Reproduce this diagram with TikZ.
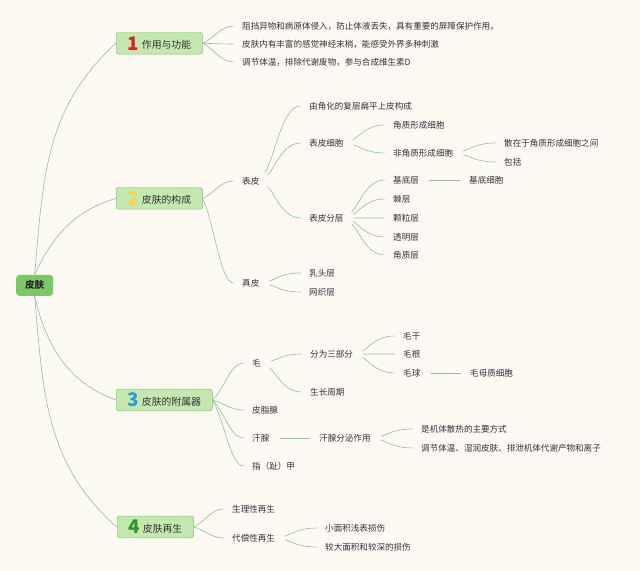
\documentclass[tikz,border=0pt]{standalone}
\usepackage{fontspec}
\setmainfont{Noto Sans CJK SC}
\usepackage{tikz}
\usetikzlibrary{calc}
\definecolor{SkBack}{RGB}{253,250,243}
\definecolor{SkLine}{RGB}{145,188,168}
\definecolor{SkText}{RGB}{50,50,50}
\definecolor{SkFill}{RGB}{196,232,176}
\definecolor{SkEdge}{RGB}{130,196,110}
\definecolor{SkRoot}{RGB}{122,200,102}
\definecolor{SkRed}{RGB}{222,32,32}
\definecolor{SkYellow}{RGB}{244,214,70}
\definecolor{SkBlue}{RGB}{38,156,216}
\definecolor{SkGreen}{RGB}{44,150,44}
\newcommand{\topicno}[2]{\raisebox{-1.5pt}{\fontsize{16}{16}\selectfont\bfseries\color{#1}#2}\hspace{2.5pt}}

\begin{document}
\begin{tikzpicture}[
          hub/.style={rectangle, rounded corners=3pt, fill=SkRoot, minimum width=1.11cm,
                      minimum height=0.63cm, font=\fontsize{8.2}{10}\selectfont\bfseries, text=black!85},
          topic/.style={rectangle, rounded corners=2pt, draw=SkEdge, fill=SkFill, anchor=west,
                        minimum height=0.65cm, inner xsep=0.34cm, inner ysep=0pt,
                        font=\fontsize{8.4}{10}\selectfont, text=SkText},
          leaf/.style={anchor=west, inner xsep=0pt, inner ysep=1pt,
                       font=\fontsize{7.3}{9}\selectfont, text=SkText},
          stem/.style={draw=SkLine, line width=0.5pt},
          fan/.style={stem, shorten >=0.25cm,
                      to path={let \p1=(\tikztostart), \p2=(\tikztotarget) in
                               .. controls ($(\p1)!0.3!(\p2)$) and ({\x1+0.45*(\x2-\x1)},\y2) .. (\p2)}},
          subfan/.style={fan, shorten <=0.3cm},
          bar/.style={stem, shorten <=0.3cm, shorten >=0.27cm}
        ]
        \useasboundingbox (0,0) rectangle (19.2,17.13);
        \fill[SkBack] (0,0) rectangle (19.2,17.13);

        % root
        \node[hub] (skin) at (1.04, 8.57) {皮肤};

        % 1 functions
        \node[topic] (func) at (3.48, 15.83) {\topicno{SkRed}{1}作用与功能};
        \node[leaf] (f1) at (7.26, 16.35) {阻挡异物和病原体侵入，防止体液丢失，具有重要的屏障保护作用。};
        \node[leaf] (f2) at (7.26, 15.81) {皮肤内有丰富的感觉神经末梢，能感受外界多种刺激};
        \node[leaf] (f3) at (7.26, 15.27) {调节体温，排除代谢废物，参与合成维生素D};
        \draw[fan] (func.east) to (f1.west);
        \draw[fan] (func.east) to (f2.west);
        \draw[fan] (func.east) to (f3.west);

        % 2 structure
        \node[topic] (struct) at (3.48, 11.18) {\topicno{SkYellow}{2}皮肤的构成};
        \node[leaf] (epi)     at (7.26, 11.70) {表皮};
        \node[leaf] (der)     at (7.26, 8.64)  {真皮};
        \node[leaf] (epiA)    at (9.27, 13.95) {由角化的复层扁平上皮构成};
        \node[leaf] (epiCell) at (9.27, 12.84) {表皮细胞};
        \node[leaf] (epiLay)  at (9.27, 10.59) {表皮分层};
        \node[leaf] (kc)      at (11.79, 13.38) {角质形成细胞};
        \node[leaf] (nkc)     at (11.79, 12.54) {非角质形成细胞};
        \node[leaf] (nkcA)    at (15.12, 12.84) {散在于角质形成细胞之间};
        \node[leaf] (nkcB)    at (15.12, 12.27) {包括};
        \node[leaf] (lay1)    at (11.79, 11.73) {基底层};
        \node[leaf] (lay2)    at (11.79, 11.16) {棘层};
        \node[leaf] (lay3)    at (11.79, 10.59) {颗粒层};
        \node[leaf] (lay4)    at (11.79, 10.02) {透明层};
        \node[leaf] (lay5)    at (11.79, 9.48)  {角质层};
        \node[leaf] (basal)   at (14.07, 11.73) {基底细胞};
        \node[leaf] (pap)     at (9.27, 8.94)  {乳头层};
        \node[leaf] (ret)     at (9.27, 8.37)  {网织层};
        \draw[fan] (struct.east) to (epi.west);
        \draw[fan] (struct.east) to (der.west);
        \draw[subfan] (epi.east) to (epiA.west);
        \draw[subfan] (epi.east) to (epiCell.west);
        \draw[subfan] (epi.east) to (epiLay.west);
        \draw[subfan] (epiCell.east) to (kc.west);
        \draw[subfan] (epiCell.east) to (nkc.west);
        \draw[subfan] (nkc.east) to (nkcA.west);
        \draw[subfan] (nkc.east) to (nkcB.west);
        \draw[subfan] (epiLay.east) to (lay1.west);
        \draw[subfan] (epiLay.east) to (lay2.west);
        \draw[subfan] (epiLay.east) to (lay3.west);
        \draw[subfan] (epiLay.east) to (lay4.west);
        \draw[subfan] (epiLay.east) to (lay5.west);
        \draw[bar] (lay1.east) -- (basal.west);
        \draw[subfan] (der.east) to (pap.west);
        \draw[subfan] (der.east) to (ret.west);

        % 3 appendages
        \node[topic] (append) at (3.48, 5.13) {\topicno{SkBlue}{3}皮肤的附属器};
        \node[leaf] (hair)   at (7.56, 6.24) {毛};
        \node[leaf] (seb)    at (7.56, 4.83) {皮脂腺};
        \node[leaf] (sweat)  at (7.56, 3.99) {汗腺};
        \node[leaf] (nail)   at (7.56, 3.15) {指（趾）甲};
        \node[leaf] (hairP)  at (9.30, 6.51) {分为三部分};
        \node[leaf] (hairC)  at (9.30, 5.37) {生长周期};
        \node[leaf] (shaft)  at (12.09, 7.05) {毛干};
        \node[leaf] (hroot)  at (12.09, 6.51) {毛根};
        \node[leaf] (bulb)   at (12.09, 5.94) {毛球};
        \node[leaf] (matrix) at (14.10, 5.94) {毛母质细胞};
        \node[leaf] (sweatF) at (9.57, 3.99) {汗腺分泌作用};
        \node[leaf] (sw1)    at (12.63, 4.26) {是机体散热的主要方式};
        \node[leaf] (sw2)    at (12.63, 3.69) {调节体温、湿润皮肤、排泄机体代谢产物和离子};
        \draw[fan] (append.east) to (hair.west);
        \draw[fan] (append.east) to (seb.west);
        \draw[fan] (append.east) to (sweat.west);
        \draw[fan] (append.east) to (nail.west);
        \draw[subfan] (hair.east) to (hairP.west);
        \draw[subfan] (hair.east) to (hairC.west);
        \draw[subfan] (hairP.east) to (shaft.west);
        \draw[subfan] (hairP.east) to (hroot.west);
        \draw[subfan] (hairP.east) to (bulb.west);
        \draw[bar] (bulb.east) -- (matrix.west);
        \draw[bar] (sweat.east) -- (sweatF.west);
        \draw[subfan] (sweatF.east) to (sw1.west);
        \draw[subfan] (sweatF.east) to (sw2.west);

        % 4 regeneration
        \node[topic] (regen) at (3.51, 1.32) {\topicno{SkGreen}{4}皮肤再生};
        \node[leaf] (phys)  at (6.96, 1.86) {生理性再生};
        \node[leaf] (comp)  at (6.96, 0.99) {代偿性再生};
        \node[leaf] (small) at (9.75, 1.29) {小面积浅表损伤};
        \node[leaf] (large) at (9.75, 0.72) {较大面积和较深的损伤};
        \draw[fan] (regen.east) to (phys.west);
        \draw[fan] (regen.east) to (comp.west);
        \draw[subfan] (comp.east) to (small.west);
        \draw[subfan] (comp.east) to (large.west);

        % root branches
        \draw[stem] (skin.north) to[out=85, in=222] (func.west);
        \draw[stem] (skin.north) to[out=65, in=197] (struct.west);
        \draw[stem] (skin.south) to[out=-77, in=160] (append.west);
        \draw[stem] (skin.south) to[out=-85, in=139] (regen.west);
      \end{tikzpicture}
\end{document}
